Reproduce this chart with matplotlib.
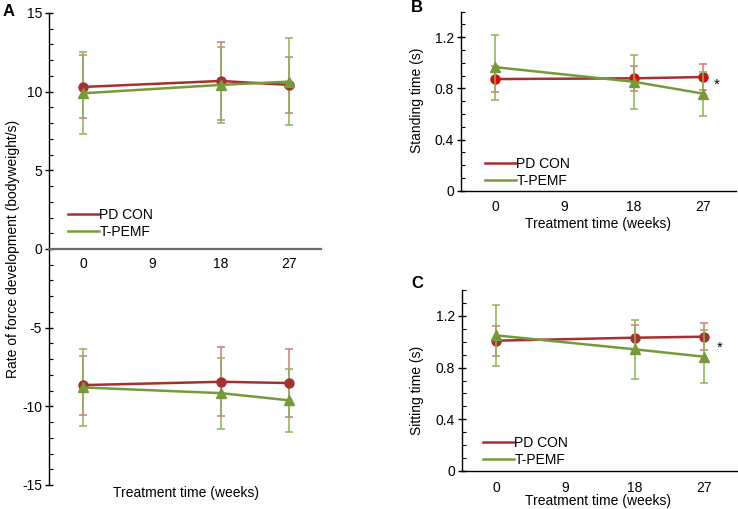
import matplotlib
matplotlib.use("Agg")
import matplotlib.pyplot as plt
from matplotlib.ticker import MultipleLocator

plt.rcParams['font.family'] = ['Liberation Sans', 'DejaVu Sans']
plt.rcParams['axes.unicode_minus'] = False

weeks = [0, 18, 27]
xtick_labels = ["0", "9", "18", "27"]
xticks = [0, 9, 18, 27]
groups = ["PD CON", "T-PEMF"]

# Panel A - rate of force development (positive and negative phases)
rfd_pos_pd = [10.3, 10.68, 10.43]
rfd_pos_pd_err = [2.0, 2.5, 1.77]
rfd_pos_t = [9.9, 10.43, 10.64]
rfd_pos_t_err = [2.6, 2.43, 2.78]
rfd_neg_pd = [-8.65, -8.44, -8.52]
rfd_neg_pd_err = [1.88, 2.2, 2.17]
rfd_neg_t = [-8.8, -9.16, -9.62]
rfd_neg_t_err = [2.43, 2.25, 2.02]

# Panel B - standing time
stand_pd = [0.873, 0.879, 0.889]
stand_pd_err = [0.10, 0.097, 0.10]
stand_t = [0.966, 0.852, 0.759]
stand_t_err = [0.255, 0.213, 0.172]

# Panel C - sitting time
sit_pd = [1.008, 1.031, 1.039]
sit_pd_err = [0.116, 0.095, 0.103]
sit_t = [1.049, 0.941, 0.884]
sit_t_err = [0.238, 0.226, 0.206]

RED = "#a5302f"
RED_ERR = "#c97b7b"
GREEN = "#769a3a"
GREEN_ERR = "#8fb158"
FS = 10

W, H = 738, 509
fig = plt.figure(figsize=(W / 100, H / 100), dpi=100)

XLIM = (-4.5, 31.2)


def px_axes(left, top, right, bottom):
    return fig.add_axes([left / W, 1 - bottom / H, (right - left) / W, (bottom - top) / H])


def draw_series(ax, y, err, color, ecolor, marker, mfc, z):
    ax.errorbar(weeks, y, yerr=err, fmt='none', ecolor=ecolor, elinewidth=1.1,
                capsize=2.6, capthick=1.1, zorder=z)
    ax.plot(weeks, y, color=color, lw=1.8, marker=marker, markersize=6.5,
            markerfacecolor=mfc, markeredgecolor=mfc, zorder=z + 1)


def style_y(ax, major, minor):
    ax.yaxis.set_major_locator(MultipleLocator(major))
    ax.yaxis.set_minor_locator(MultipleLocator(minor))
    ax.tick_params(axis='y', which='major', direction='inout', length=6, width=1,
                   labelsize=FS, pad=2)
    ax.tick_params(axis='y', which='minor', direction='in', length=3, width=0.8)
    ax.spines['top'].set_visible(False)
    ax.spines['right'].set_visible(False)


def add_legend(ax, x, y):
    ax.plot([], [], color=RED, lw=1.8, label=groups[0])
    ax.plot([], [], color=GREEN, lw=1.8, label=groups[1])
    ax.legend(loc='lower left', bbox_to_anchor=(x, y), frameon=False, fontsize=FS,
              handlelength=2.2, handletextpad=0.05, labelspacing=0.2, borderaxespad=0,
              borderpad=0)


# ---------- Panel A ----------
axA = px_axes(49, 13, 49 + (XLIM[1] - XLIM[0]) * 7.63, 485)
axA.set_xlim(*XLIM)
axA.set_ylim(-15, 15)
style_y(axA, 5, 1)
axA.spines['bottom'].set_position(('data', 0))
axA.spines['bottom'].set_color('#6b6b6b')
axA.spines['bottom'].set_linewidth(1.6)
axA.spines['left'].set_linewidth(1.0)
axA.set_xticks(xticks)
axA.set_xticklabels(xtick_labels)
axA.tick_params(axis='x', length=0, labelsize=FS, pad=6)
draw_series(axA, rfd_pos_pd, rfd_pos_pd_err, RED, RED_ERR, 'o', RED, 3)
draw_series(axA, rfd_pos_t, rfd_pos_t_err, GREEN, GREEN_ERR, '^', GREEN, 3)
draw_series(axA, rfd_neg_pd, rfd_neg_pd_err, RED, RED_ERR, 'o', RED, 3)
draw_series(axA, rfd_neg_t, rfd_neg_t_err, GREEN, GREEN_ERR, '^', GREEN, 3)
add_legend(axA, 0.07, 0.521)
fig.text(13 / W, 1 - 249 / H, "Rate of force development (bodyweight/s)", rotation=90,
         ha='center', va='center', fontsize=FS)
fig.text(186 / W, 1 - 493 / H, "Treatment time (weeks)", ha='center', va='center', fontsize=FS)
fig.text(9 / W, 1 - 12 / H, "A", ha='center', va='center', fontsize=12, fontweight='bold')


def small_panel(top, bottom, left, pd, pd_err, t, t_err, ylabel, pd_mfc, star_xy, label, label_xy,
                xlabel_y, ylabel_xy, leg_xy):
    ax = px_axes(left, top, left + (XLIM[1] - XLIM[0]) * 7.7, bottom)
    ax.set_xlim(*XLIM)
    ax.set_ylim(0, 1.4)
    style_y(ax, 0.4, 0.1)
    ax.set_yticks([0, 0.4, 0.8, 1.2])
    ax.set_yticklabels(["0", "0.4", "0.8", "1.2"])
    ax.set_xticks(xticks)
    ax.set_xticklabels(xtick_labels)
    ax.tick_params(axis='x', length=0, labelsize=FS, pad=7)
    ax.spines['bottom'].set_linewidth(1.0)
    ax.spines['left'].set_linewidth(1.0)
    draw_series(ax, pd, pd_err, RED, RED_ERR, 'o', pd_mfc, 3)
    draw_series(ax, t, t_err, GREEN, GREEN_ERR, '^', GREEN, 5)
    add_legend(ax, *leg_xy)
    ax.text(star_xy[0], star_xy[1], "*", ha='center', va='center', fontsize=11)
    fig.text(ylabel_xy[0] / W, 1 - ylabel_xy[1] / H, ylabel, rotation=90, ha='center',
             va='center', fontsize=FS)
    fig.text(598 / W, 1 - xlabel_y / H, "Treatment time (weeks)", ha='center', va='center',
             fontsize=FS)
    fig.text(label_xy[0] / W, 1 - label_xy[1] / H, label, ha='center', va='center',
             fontsize=12, fontweight='bold')
    return ax


small_panel(11.7, 190.7, 460.7, stand_pd, stand_pd_err, stand_t, stand_t_err,
            "Standing time (s)", "#d10d0d", (28.8, 0.83), "B", (417, 8), 224, (417, 100),
            (0.089, 0.015))
small_panel(290, 471, 461.7, sit_pd, sit_pd_err, sit_t, sit_t_err,
            "Sitting time (s)", RED, (29.0, 0.95), "C", (417, 284), 501, (417, 390),
            (0.078, 0.022))

fig.savefig("out.png", dpi=100)
